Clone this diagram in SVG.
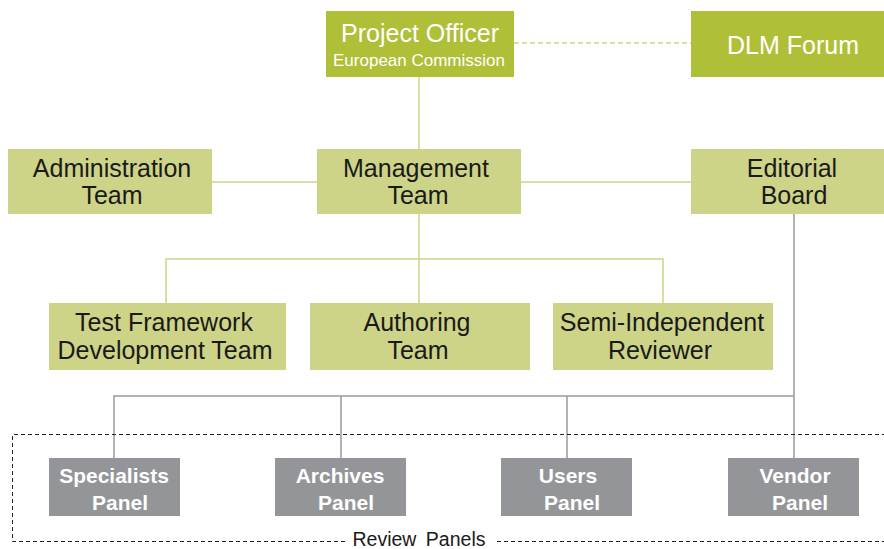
<svg xmlns="http://www.w3.org/2000/svg" width="884" height="549" viewBox="0 0 884 549">
<style>
.top{fill:#AFBF37}
.team{fill:#CDD488}
.panel{fill:#939598}
.t{font-family:"Liberation Sans",Arial,sans-serif;font-size:25px;fill:#1a1a1a;text-anchor:middle}
.w{fill:#ffffff}
.s{font-size:17px}
.p{font-family:"Liberation Sans",Arial,sans-serif;font-size:21px;font-weight:bold;fill:#ffffff;text-anchor:middle}
.g{stroke:#CDD488;stroke-width:1.5;fill:none}
.gr{stroke:#999a9c;stroke-width:1.5;fill:none}
.d{stroke:#222;stroke-width:1;stroke-dasharray:4 3;fill:none}
</style>
<g id="connectors">
<line class="g" x1="514" y1="43" x2="691" y2="43" stroke-dasharray="5 3"/>
<line class="g" x1="419" y1="77" x2="419" y2="149"/>
<line class="g" x1="212" y1="182" x2="317" y2="182"/>
<line class="g" x1="521" y1="182" x2="691" y2="182"/>
<line class="g" x1="419" y1="214" x2="419" y2="303"/>
<polyline class="g" points="166,303 166,259 663,259 663,303"/>
<line class="gr" x1="794" y1="214" x2="794" y2="458"/>
<polyline class="gr" points="114,458 114,396 794,396"/>
<line class="gr" x1="341" y1="396" x2="341" y2="458"/>
<line class="gr" x1="567" y1="396" x2="567" y2="458"/>
</g>
<g id="review-panels-group">
<path class="d" d="M345,541.5 H12.5 V434.5 H884"/>
<line class="d" x1="497" y1="541.5" x2="884" y2="541.5"/>
<text x="419" y="546" font-family="Liberation Sans,Arial,sans-serif" font-size="19.5" fill="#1a1a1a" text-anchor="middle" word-spacing="4">Review Panels</text>
</g>
<g id="project-officer">
<rect class="top" x="326" y="11" width="188" height="66"/>
<text class="t w" x="420" y="42">Project Officer</text>
<text class="t w s" x="419" y="66">European Commission</text>
</g>
<g id="dlm-forum">
<rect class="top" x="691" y="11" width="193" height="66"/>
<text class="t w" x="793" y="54">DLM Forum</text>
</g>
<g id="administration-team">
<rect class="team" x="8" y="149" width="204" height="65"/>
<text class="t" x="112" y="177">Administration</text>
<text class="t" x="112" y="204">Team</text>
</g>
<g id="management-team">
<rect class="team" x="317" y="149" width="204" height="65"/>
<text class="t" x="416" y="177">Management</text>
<text class="t" x="418" y="204">Team</text>
</g>
<g id="editorial-board">
<rect class="team" x="691" y="149" width="193" height="65"/>
<text class="t" x="792" y="177">Editorial</text>
<text class="t" x="794" y="204">Board</text>
</g>
<g id="test-framework">
<rect class="team" x="49" y="303" width="237" height="67"/>
<text class="t" x="164" y="331">Test Framework</text>
<text class="t" x="165" y="359">Development Team</text>
</g>
<g id="authoring-team">
<rect class="team" x="310" y="303" width="220" height="67"/>
<text class="t" x="417" y="331">Authoring</text>
<text class="t" x="418" y="359">Team</text>
</g>
<g id="semi-independent-reviewer">
<rect class="team" x="553" y="303" width="220" height="67"/>
<text class="t" x="662" y="331">Semi-Independent</text>
<text class="t" x="660" y="359">Reviewer</text>
</g>
<g id="specialists-panel">
<rect class="panel" x="49" y="458" width="131" height="58"/>
<text class="p" x="114" y="483">Specialists</text>
<text class="p" x="120" y="510">Panel</text>
</g>
<g id="archives-panel">
<rect class="panel" x="275" y="458" width="131" height="58"/>
<text class="p" x="340" y="483">Archives</text>
<text class="p" x="346" y="510">Panel</text>
</g>
<g id="users-panel">
<rect class="panel" x="501" y="458" width="131" height="58"/>
<text class="p" x="568" y="483">Users</text>
<text class="p" x="572" y="510">Panel</text>
</g>
<g id="vendor-panel">
<rect class="panel" x="728" y="458" width="131" height="58"/>
<text class="p" x="795" y="483">Vendor</text>
<text class="p" x="800" y="510">Panel</text>
</g>
</svg>
